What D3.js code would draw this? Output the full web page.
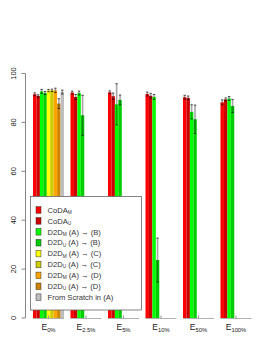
<!DOCTYPE html>
<html>
<head>
<meta charset="utf-8">
<script src="https://cdn.jsdelivr.net/npm/d3@7"></script>
<style>
  body { margin: 0; background: #fff; }
  svg { display: block; font-family: "Liberation Sans", Arial, sans-serif; }
</style>
</head>
<body>
<script>
// groups (x categories) and subscripts
var groups = ["0%", "2.5%", "5%", "10%", "50%", "100%"];
var yTicks = [0, 20, 40, 60, 80, 100];

// series means, one value per group
var codaM   = [91.5, 92.2, 92.3, 91.6, 90.3, 88.2];
var codaU   = [90.8, 90.4, 90.7, 90.9, 90.0, 89.4];
var d2dMB   = [92.7, 92.0, 87.4, 90.4, 84.3, 89.8];
var d2dUB   = [92.0, 82.9, 89.2, 23.7, 81.3, 86.7];
var d2dMC   = [93.0, 0, 0, 0, 0, 0];
var d2dUC   = [93.1, 0, 0, 0, 0, 0];
var d2dMD   = [93.1, 0, 0, 0, 0, 0];
var d2dUD   = [87.7, 0, 0, 0, 0, 0];
var scratch = [92.4, 0, 0, 0, 0, 0];

// standard deviations
var codaMSd   = [0.6, 0.6, 0.6, 0.8, 0.8, 1.0];
var codaUSd   = [0.5, 1.0, 1.3, 1.0, 0.8, 0.6];
var d2dMBSd   = [0.8, 0.8, 8.4, 1.0, 2.9, 0.8];
var d2dUBSd   = [0.6, 8.2, 2.0, 9.0, 5.8, 2.7];
var d2dMCSd   = [0.5, 0, 0, 0, 0, 0];
var d2dUCSd   = [0.5, 0, 0, 0, 0, 0];
var d2dMDSd   = [0.9, 0, 0, 0, 0, 0];
var d2dUDSd   = [2.0, 0, 0, 0, 0, 0];
var scratchSd = [0.8, 0, 0, 0, 0, 0];

var series = [
  {name: "CoDA", sub: "M", rest: "", col: "#ff0000", v: codaM, sd: codaMSd},
  {name: "CoDA", sub: "U", rest: "", col: "#cd0000", v: codaU, sd: codaUSd},
  {name: "D2D", sub: "M", rest: " (A) \u2192 (B)", col: "#00ff00", v: d2dMB, sd: d2dMBSd},
  {name: "D2D", sub: "U", rest: " (A) \u2192 (B)", col: "#00cd00", v: d2dUB, sd: d2dUBSd},
  {name: "D2D", sub: "M", rest: " (A) \u2192 (C)", col: "#ffff00", v: d2dMC, sd: d2dMCSd},
  {name: "D2D", sub: "U", rest: " (A) \u2192 (C)", col: "#cdcd00", v: d2dUC, sd: d2dUCSd},
  {name: "D2D", sub: "M", rest: " (A) \u2192 (D)", col: "#ffa500", v: d2dMD, sd: d2dMDSd},
  {name: "D2D", sub: "U", rest: " (A) \u2192 (D)", col: "#cd8500", v: d2dUD, sd: d2dUDSd},
  {name: "From Scratch in (A)", sub: "", rest: "", col: "#bebebe", v: scratch, sd: scratchSd}
];

var svg = d3.select("body").append("svg")
    .attr("width", 266)
    .attr("height", 344);

var x0 = d3.scaleBand()
    .domain(groups)
    .range([33, 251.5])
    .paddingInner(0.173)
    .paddingOuter(0);

var x1 = d3.scaleBand()
    .domain(d3.range(series.length))
    .range([0, x0.bandwidth()]);

var y = d3.scaleLinear()
    .domain([0, 100])
    .range([318, 73.5]);

// flatten bars
var bars = [];
series.forEach(function(s, si) {
  groups.forEach(function(g, gi) {
    bars.push({g: g, si: si, v: s.v[gi], sd: s.sd[gi], col: s.col});
  });
});

// baseline under each group
svg.append("g").selectAll("line")
  .data(groups)
  .enter().append("line")
    .attr("x1", function(d) { return x0(d); })
    .attr("x2", function(d) { return x0(d) + x0.bandwidth(); })
    .attr("y1", y(0) + 0.5)
    .attr("y2", y(0) + 0.5)
    .attr("stroke", "#b0b0b0")
    .attr("stroke-width", 1);

// bars
svg.append("g").selectAll("rect")
  .data(bars.filter(function(d) { return d.v > 0; }))
  .enter().append("rect")
    .attr("x", function(d) { return x0(d.g) + x1(d.si); })
    .attr("width", x1.bandwidth())
    .attr("y", function(d) { return y(d.v); })
    .attr("height", function(d) { return y(0) - y(d.v); })
    .attr("fill", function(d) { return d.col; });

// error bars
var eb = svg.append("g").selectAll("g")
  .data(bars.filter(function(d) { return d.sd > 0; }))
  .enter().append("g");

eb.append("line")
    .attr("x1", function(d) { return x0(d.g) + x1(d.si) + x1.bandwidth() / 2; })
    .attr("x2", function(d) { return x0(d.g) + x1(d.si) + x1.bandwidth() / 2; })
    .attr("y1", function(d) { return y(d.v - d.sd); })
    .attr("y2", function(d) { return y(d.v + d.sd); })
    .attr("stroke", "rgba(40,40,40,0.42)")
    .attr("stroke-width", 1.6);

eb.selectAll("line.cap")
  .data(function(d) { return [d.v - d.sd, d.v + d.sd].map(function(e) { return {d: d, e: e}; }); })
  .enter().append("line")
    .attr("class", "cap")
    .attr("x1", function(c) { return x0(c.d.g) + x1(c.d.si) + x1.bandwidth() / 2 - 1.2; })
    .attr("x2", function(c) { return x0(c.d.g) + x1(c.d.si) + x1.bandwidth() / 2 + 1.2; })
    .attr("y1", function(c) { return y(c.e); })
    .attr("y2", function(c) { return y(c.e); })
    .attr("stroke", "rgba(0,0,0,0.75)")
    .attr("stroke-width", 0.9);

// x ticks and labels
var xl = svg.append("g").selectAll("g")
  .data(groups)
  .enter().append("g")
    .attr("transform", function(d) { return "translate(" + (x0(d) + x0.bandwidth() / 2) + ",0)"; });

xl.append("line")
    .attr("y1", y(0) - 2.5)
    .attr("y2", y(0) + 0.5)
    .attr("stroke", "#999");

var xt = xl.append("text")
    .attr("y", 330)
    .attr("text-anchor", "middle")
    .attr("fill", "#222")
    .attr("font-size", 8.5);
xt.append("tspan").text("E");
xt.append("tspan")
    .attr("font-size", 5.8)
    .attr("dy", 1.5)
    .text(function(d) { return d; });

// y axis
var ya = svg.append("g");
ya.append("line")
    .attr("x1", 25.5).attr("x2", 25.5)
    .attr("y1", y(0)).attr("y2", y(100))
    .attr("stroke", "#888");
ya.selectAll("line.t")
  .data(yTicks)
  .enter().append("line")
    .attr("class", "t")
    .attr("x1", 21.5).attr("x2", 25.5)
    .attr("y1", function(d) { return y(d); })
    .attr("y2", function(d) { return y(d); })
    .attr("stroke", "#888");
ya.selectAll("text")
  .data(yTicks)
  .enter().append("text")
    .attr("transform", function(d) { return "translate(16," + y(d) + ") rotate(-90)"; })
    .attr("text-anchor", "middle")
    .attr("fill", "#222")
    .attr("font-size", 7.5)
    .text(function(d) { return d; });

// legend
var lg = svg.append("g");
lg.append("rect")
    .attr("x", 30.5).attr("y", 196.5)
    .attr("width", 111).attr("height", 113.5)
    .attr("fill", "#fff")
    .attr("stroke", "#666")
    .attr("stroke-width", 0.8);

var li = lg.selectAll("g")
  .data(series)
  .enter().append("g")
    .attr("transform", function(d, i) { return "translate(0," + (210 + i * 10.9) + ")"; });

li.append("rect")
    .attr("x", 36).attr("y", -3.3)
    .attr("width", 5).attr("height", 6.6)
    .attr("fill", function(d) { return d.col; })
    .attr("stroke", "#333")
    .attr("stroke-width", 0.5);

var lt = li.append("text")
    .attr("x", 47.5)
    .attr("y", 2.7)
    .attr("fill", "#333")
    .attr("font-size", 7.6);
lt.append("tspan").text(function(d) { return d.name; });
lt.append("tspan")
    .attr("font-size", 4.8)
    .attr("dy", 1.2)
    .text(function(d) { return d.sub; });
lt.append("tspan")
    .attr("dy", -1.2)
    .text(function(d) { return d.rest; });
</script>
</body>
</html>
